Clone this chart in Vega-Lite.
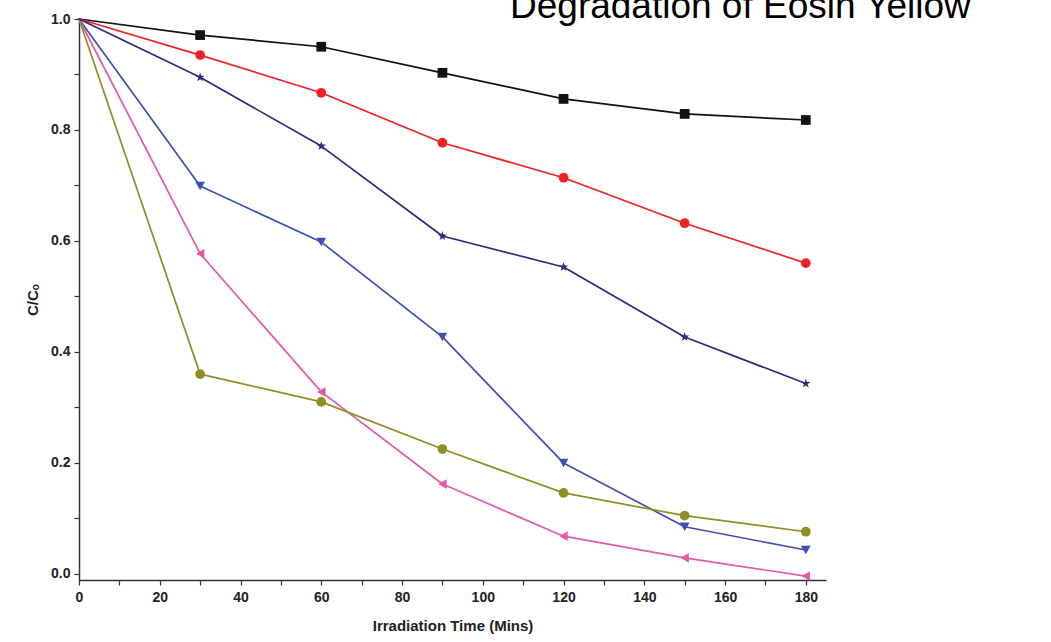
{
  "$schema": "https://vega.github.io/schema/vega-lite/v6.json",
  "width": 747,
  "height": 561,
  "autosize": {"type": "none"},
  "padding": {"left": 79, "top": 19, "right": 225, "bottom": 62},
  "background": "white",
  "title": {"text": "Degradation of Eosin Yellow", "anchor": "start", "frame": "group", "orient": "top", "dx": 431, "offset": -43, "baseline": "alphabetic", "fontSize": 37, "font": "Liberation Sans", "fontWeight": "normal", "color": "#000"},
  "config": {
    "view": {"stroke": null},
    "font": "Liberation Sans",
    "axis": {"grid": false, "domainColor": "#333", "domainWidth": 1.5, "tickColor": "#333", "tickWidth": 1.2, "tickSize": 5, "labelFont": "Liberation Sans", "labelFontWeight": "bold", "labelFontSize": 14, "labelColor": "#222", "titleFont": "Liberation Sans", "titleFontWeight": "bold", "titleFontSize": 15, "titleColor": "#222"}
  },
  "datasets": {
    "pts": [
      {"t": 30, "v": 0.971, "s": "Comm. TiO₂"},
      {"t": 60, "v": 0.950, "s": "Comm. TiO₂"},
      {"t": 90, "v": 0.903, "s": "Comm. TiO₂"},
      {"t": 120, "v": 0.856, "s": "Comm. TiO₂"},
      {"t": 150, "v": 0.829, "s": "Comm. TiO₂"},
      {"t": 180, "v": 0.818, "s": "Comm. TiO₂"},
      {"t": 30, "v": 0.935, "s": "N, Pd TiO₂ (0.0% Pd)"},
      {"t": 60, "v": 0.867, "s": "N, Pd TiO₂ (0.0% Pd)"},
      {"t": 90, "v": 0.777, "s": "N, Pd TiO₂ (0.0% Pd)"},
      {"t": 120, "v": 0.714, "s": "N, Pd TiO₂ (0.0% Pd)"},
      {"t": 150, "v": 0.632, "s": "N, Pd TiO₂ (0.0% Pd)"},
      {"t": 180, "v": 0.560, "s": "N, Pd TiO₂ (0.0% Pd)"},
      {"t": 30, "v": 0.699, "s": "N, Pd TiO₂ (0.4% Pd)"},
      {"t": 60, "v": 0.598, "s": "N, Pd TiO₂ (0.4% Pd)"},
      {"t": 90, "v": 0.427, "s": "N, Pd TiO₂ (0.4% Pd)"},
      {"t": 120, "v": 0.200, "s": "N, Pd TiO₂ (0.4% Pd)"},
      {"t": 150, "v": 0.085, "s": "N, Pd TiO₂ (0.4% Pd)"},
      {"t": 180, "v": 0.043, "s": "N, Pd TiO₂ (0.4% Pd)"},
      {"t": 30, "v": 0.577, "s": "N, Pd TiO₂ (0.6% Pd)"},
      {"t": 60, "v": 0.328, "s": "N, Pd TiO₂ (0.6% Pd)"},
      {"t": 90, "v": 0.162, "s": "N, Pd TiO₂ (0.6% Pd)"},
      {"t": 120, "v": 0.068, "s": "N, Pd TiO₂ (0.6% Pd)"},
      {"t": 150, "v": 0.029, "s": "N, Pd TiO₂ (0.6% Pd)"},
      {"t": 180, "v": -0.004, "s": "N, Pd TiO₂ (0.6% Pd)"},
      {"t": 30, "v": 0.360, "s": "N, Pd TiO₂ (0.8% Pd)"},
      {"t": 60, "v": 0.310, "s": "N, Pd TiO₂ (0.8% Pd)"},
      {"t": 90, "v": 0.225, "s": "N, Pd TiO₂ (0.8% Pd)"},
      {"t": 120, "v": 0.146, "s": "N, Pd TiO₂ (0.8% Pd)"},
      {"t": 150, "v": 0.105, "s": "N, Pd TiO₂ (0.8% Pd)"},
      {"t": 180, "v": 0.076, "s": "N, Pd TiO₂ (0.8% Pd)"},
      {"t": 30, "v": 0.895, "s": "N, Pd TiO₂ (1.0% Pd)"},
      {"t": 60, "v": 0.771, "s": "N, Pd TiO₂ (1.0% Pd)"},
      {"t": 90, "v": 0.609, "s": "N, Pd TiO₂ (1.0% Pd)"},
      {"t": 120, "v": 0.553, "s": "N, Pd TiO₂ (1.0% Pd)"},
      {"t": 150, "v": 0.427, "s": "N, Pd TiO₂ (1.0% Pd)"},
      {"t": 180, "v": 0.343, "s": "N, Pd TiO₂ (1.0% Pd)"}
    ],
    "seg": [
      {"s": "Comm. TiO₂", "t": 0, "v": 1.0, "t2": 30, "v2": 0.971},
      {"s": "Comm. TiO₂", "t": 30, "v": 0.971, "t2": 60, "v2": 0.950},
      {"s": "Comm. TiO₂", "t": 60, "v": 0.950, "t2": 90, "v2": 0.903},
      {"s": "Comm. TiO₂", "t": 90, "v": 0.903, "t2": 120, "v2": 0.856},
      {"s": "Comm. TiO₂", "t": 120, "v": 0.856, "t2": 150, "v2": 0.829},
      {"s": "Comm. TiO₂", "t": 150, "v": 0.829, "t2": 180, "v2": 0.818},
      {"s": "N, Pd TiO₂ (0.0% Pd)", "t": 0, "v": 1.0, "t2": 30, "v2": 0.935},
      {"s": "N, Pd TiO₂ (0.0% Pd)", "t": 30, "v": 0.935, "t2": 60, "v2": 0.867},
      {"s": "N, Pd TiO₂ (0.0% Pd)", "t": 60, "v": 0.867, "t2": 90, "v2": 0.777},
      {"s": "N, Pd TiO₂ (0.0% Pd)", "t": 90, "v": 0.777, "t2": 120, "v2": 0.714},
      {"s": "N, Pd TiO₂ (0.0% Pd)", "t": 120, "v": 0.714, "t2": 150, "v2": 0.632},
      {"s": "N, Pd TiO₂ (0.0% Pd)", "t": 150, "v": 0.632, "t2": 180, "v2": 0.560},
      {"s": "N, Pd TiO₂ (0.4% Pd)", "t": 0, "v": 1.0, "t2": 30, "v2": 0.699},
      {"s": "N, Pd TiO₂ (0.4% Pd)", "t": 30, "v": 0.699, "t2": 60, "v2": 0.598},
      {"s": "N, Pd TiO₂ (0.4% Pd)", "t": 60, "v": 0.598, "t2": 90, "v2": 0.427},
      {"s": "N, Pd TiO₂ (0.4% Pd)", "t": 90, "v": 0.427, "t2": 120, "v2": 0.200},
      {"s": "N, Pd TiO₂ (0.4% Pd)", "t": 120, "v": 0.200, "t2": 150, "v2": 0.085},
      {"s": "N, Pd TiO₂ (0.4% Pd)", "t": 150, "v": 0.085, "t2": 180, "v2": 0.043},
      {"s": "N, Pd TiO₂ (0.6% Pd)", "t": 0, "v": 1.0, "t2": 30, "v2": 0.577},
      {"s": "N, Pd TiO₂ (0.6% Pd)", "t": 30, "v": 0.577, "t2": 60, "v2": 0.328},
      {"s": "N, Pd TiO₂ (0.6% Pd)", "t": 60, "v": 0.328, "t2": 90, "v2": 0.162},
      {"s": "N, Pd TiO₂ (0.6% Pd)", "t": 90, "v": 0.162, "t2": 120, "v2": 0.068},
      {"s": "N, Pd TiO₂ (0.6% Pd)", "t": 120, "v": 0.068, "t2": 150, "v2": 0.029},
      {"s": "N, Pd TiO₂ (0.6% Pd)", "t": 150, "v": 0.029, "t2": 180, "v2": -0.004},
      {"s": "N, Pd TiO₂ (0.8% Pd)", "t": 0, "v": 1.0, "t2": 30, "v2": 0.360},
      {"s": "N, Pd TiO₂ (0.8% Pd)", "t": 30, "v": 0.360, "t2": 60, "v2": 0.310},
      {"s": "N, Pd TiO₂ (0.8% Pd)", "t": 60, "v": 0.310, "t2": 90, "v2": 0.225},
      {"s": "N, Pd TiO₂ (0.8% Pd)", "t": 90, "v": 0.225, "t2": 120, "v2": 0.146},
      {"s": "N, Pd TiO₂ (0.8% Pd)", "t": 120, "v": 0.146, "t2": 150, "v2": 0.105},
      {"s": "N, Pd TiO₂ (0.8% Pd)", "t": 150, "v": 0.105, "t2": 180, "v2": 0.076},
      {"s": "N, Pd TiO₂ (1.0% Pd)", "t": 0, "v": 1.0, "t2": 30, "v2": 0.895},
      {"s": "N, Pd TiO₂ (1.0% Pd)", "t": 30, "v": 0.895, "t2": 60, "v2": 0.771},
      {"s": "N, Pd TiO₂ (1.0% Pd)", "t": 60, "v": 0.771, "t2": 90, "v2": 0.609},
      {"s": "N, Pd TiO₂ (1.0% Pd)", "t": 90, "v": 0.609, "t2": 120, "v2": 0.553},
      {"s": "N, Pd TiO₂ (1.0% Pd)", "t": 120, "v": 0.553, "t2": 150, "v2": 0.427},
      {"s": "N, Pd TiO₂ (1.0% Pd)", "t": 150, "v": 0.427, "t2": 180, "v2": 0.343}
    ]
  },
  "layer": [
    {
      "data": {"name": "seg"},
      "mark": {"type": "rule", "strokeWidth": 1.7, "strokeCap": "round"},
      "encoding": {
        "x": {"field": "t", "type": "quantitative", "scale": {"domain": [0, 185], "nice": false, "zero": false},
              "axis": {"title": "Irradiation Time (Mins)", "values": [0,10,20,30,40,50,60,70,80,90,100,110,120,130,140,150,160,170,180], "labelExpr": "datum.value % 20 === 0 ? datum.label : ''", "labelPadding": 5, "titlePadding": 14, "labelFlush": false, "labelOverlap": false}},
        "y": {"field": "v", "type": "quantitative", "scale": {"domain": [-0.011, 1.0], "nice": false, "zero": false},
              "axis": {"title": "C/Cₒ", "values": [0,0.1,0.2,0.3,0.4,0.5,0.6,0.7,0.8,0.9,1.0], "labelExpr": "round(datum.value*10) % 2 === 0 ? format(datum.value, '.1f') : ''", "labelPadding": 4, "titlePadding": 10, "labelFlush": false, "labelOverlap": false}},
        "x2": {"field": "t2"},
        "y2": {"field": "v2"},
        "stroke": {"field": "s", "type": "nominal",
          "scale": {"domain": ["Comm. TiO₂", "N, Pd TiO₂ (0.0% Pd)", "N, Pd TiO₂ (0.4% Pd)", "N, Pd TiO₂ (0.6% Pd)", "N, Pd TiO₂ (0.8% Pd)", "N, Pd TiO₂ (1.0% Pd)"],
                    "range": ["#111111", "#ee2326", "#3f50b4", "#e35aa9", "#8f8e25", "#2e2a7d"]},
          "legend": null}
      }
    },
    {
      "data": {"name": "pts"},
      "mark": {"type": "point", "filled": true, "opacity": 1, "size": 95},
      "encoding": {
        "x": {"field": "t", "type": "quantitative"},
        "y": {"field": "v", "type": "quantitative"},
        "color": {"field": "s", "type": "nominal",
          "scale": {"domain": ["Comm. TiO₂", "N, Pd TiO₂ (0.0% Pd)", "N, Pd TiO₂ (0.4% Pd)", "N, Pd TiO₂ (0.6% Pd)", "N, Pd TiO₂ (0.8% Pd)", "N, Pd TiO₂ (1.0% Pd)"],
                    "range": ["#111111", "#ee2326", "#3f50b4", "#e35aa9", "#8f8e25", "#2e2a7d"]},
          "legend": {"title": null, "orient": "none", "legendX": 766, "legendY": 167, "symbolSize": 80, "labelFontSize": 13.5, "labelFont": "Liberation Sans", "labelColor": "#111", "labelLimit": 400, "labelOffset": 6, "rowPadding": 6}},
        "shape": {"field": "s", "type": "nominal",
          "scale": {"domain": ["Comm. TiO₂", "N, Pd TiO₂ (0.0% Pd)", "N, Pd TiO₂ (0.4% Pd)", "N, Pd TiO₂ (0.6% Pd)", "N, Pd TiO₂ (0.8% Pd)", "N, Pd TiO₂ (1.0% Pd)"],
                    "range": ["square", "circle", "triangle-down", "triangle-left", "circle", "M0,-1L0.235,-0.324L0.951,-0.309L0.38,0.124L0.588,0.809L0,0.4L-0.588,0.809L-0.38,0.124L-0.951,-0.309L-0.235,-0.324Z"]},
          "legend": {"title": null, "orient": "none", "legendX": 766, "legendY": 167, "symbolSize": 80, "labelFontSize": 13.5, "labelFont": "Liberation Sans", "labelColor": "#111", "labelLimit": 400, "labelOffset": 6, "rowPadding": 6}}
      }
    }
  ]
}
